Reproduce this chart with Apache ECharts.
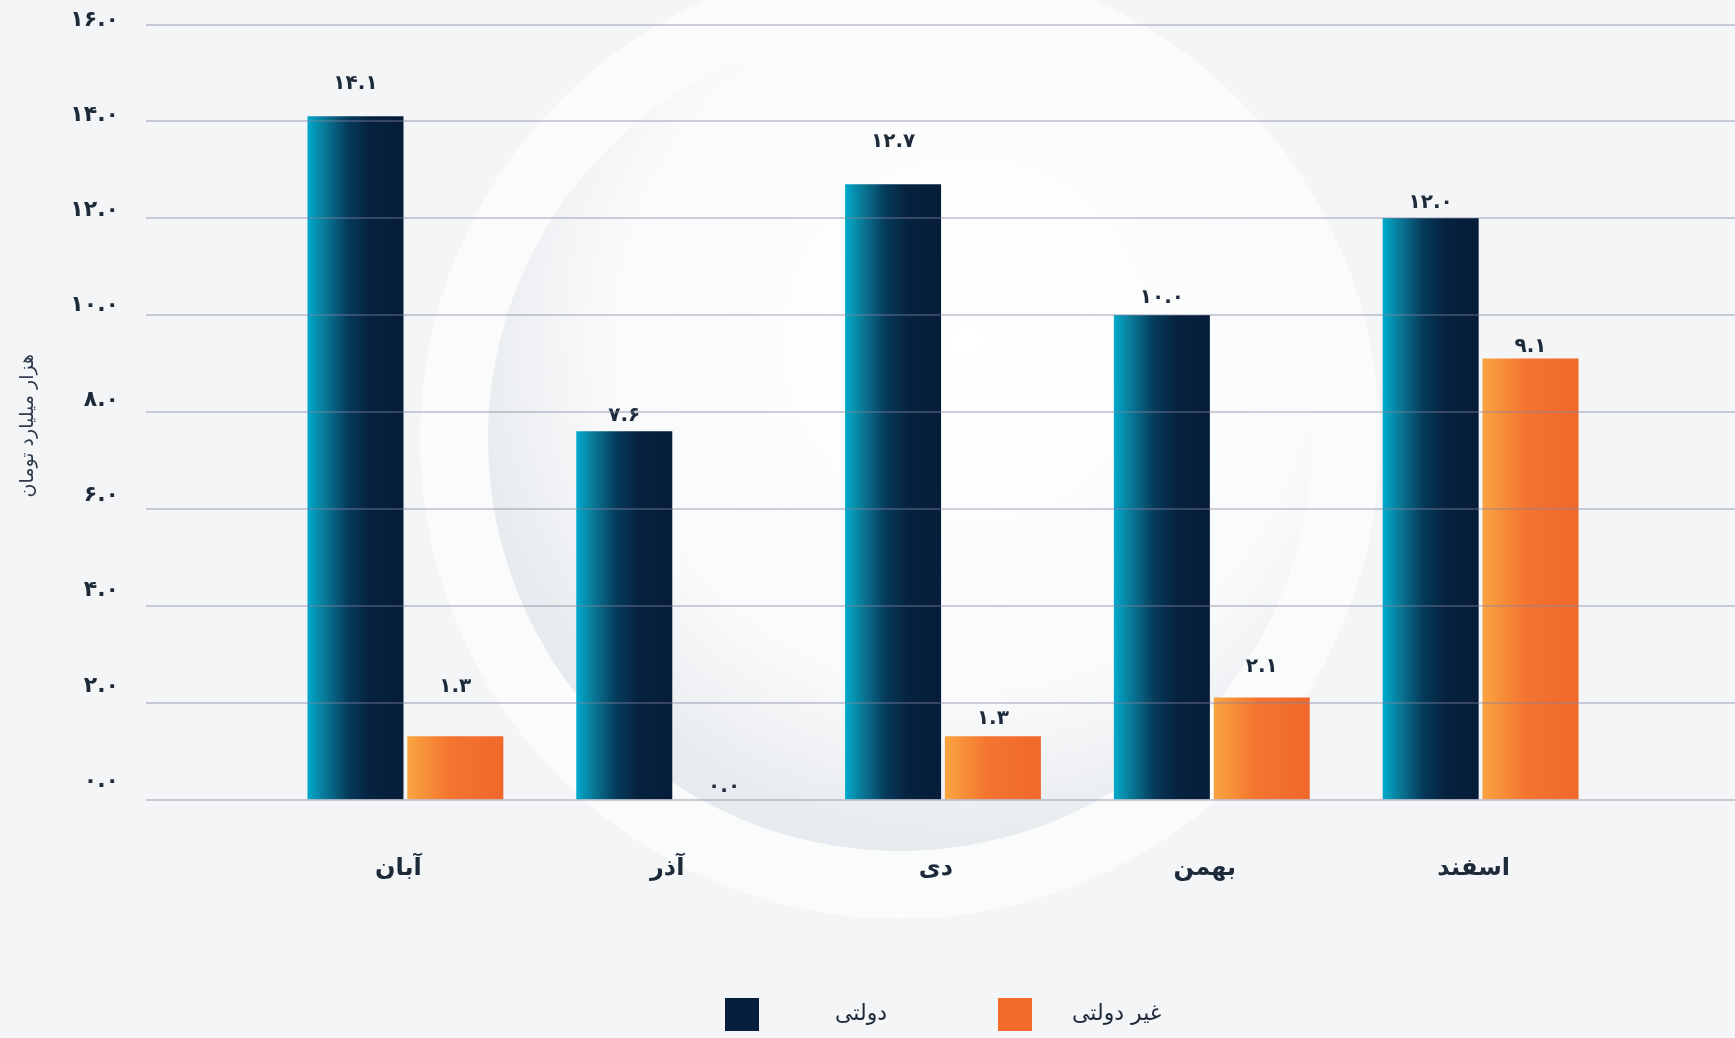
<!DOCTYPE html>
<html>
<head>
<meta charset="utf-8">
<script src="https://cdn.jsdelivr.net/npm/echarts@6/dist/echarts.min.js"></script>
<style>
  html, body { margin: 0; padding: 0; background: #f4f5f7; }
  #presentation { width: 1735px; height: 1038px; }
</style>
</head>
<body>
<div id="presentation"></div>
<script>
var months = ['آبان', 'آذر', 'دی', 'بهمن', 'اسفند'];
var govt = [14.1, 7.6, 12.7, 10.0, 12.0];
var nonGovt = [1.3, 0.0, 1.3, 2.1, 9.1];
var seriesNames = ['دولتی', 'غیر دولتی'];
var yTicks = [0, 2, 4, 6, 8, 10, 12, 14, 16];

// in the picture some value labels float higher than others (series-index -> label distance)
var labelLift = { '0-0': 23, '0-2': 32, '0-3': 7, '1-0': 40, '1-1': 3, '1-2': 8, '1-3': 21, '1-4': 2 };

var font = 'DejaVu Sans';
var ink = '#1c2a3a';

function fa(v) {
  return Number(v).toFixed(1).replace(/\d/g, function (d) { return '۰۱۲۳۴۵۶۷۸۹'[d]; });
}

function barData(values, s) {
  return values.map(function (v, i) {
    var lift = labelLift[s + '-' + i];
    return lift !== undefined ? { value: v, label: { distance: lift } } : v;
  });
}

var navyFill = new echarts.graphic.LinearGradient(0, 0, 1, 0, [
  { offset: 0, color: '#00abcc' },
  { offset: 0.18, color: '#0a7897' },
  { offset: 0.42, color: '#053a5a' },
  { offset: 0.65, color: '#06223f' },
  { offset: 1, color: '#061d38' }
]);
var orangeFill = new echarts.graphic.LinearGradient(0, 0, 1, 0, [
  { offset: 0, color: '#f9a440' },
  { offset: 0.45, color: '#f47430' },
  { offset: 1, color: '#f0692a' }
]);

var valueLabel = {
  show: true,
  position: 'top',
  distance: 5,
  fontFamily: font,
  fontSize: 20,
  fontWeight: 'bold',
  color: ink,
  formatter: function (p) { return fa(p.value); }
};

var yMax = yTicks[yTicks.length - 1];
var yStep = yTicks[1] - yTicks[0];

var option = {
  backgroundColor: '#f4f5f7',
  animation: false,
  graphic: [
    { type: 'circle', z: -10, silent: true, shape: { cx: 900, cy: 439, r: 480 },
      style: { fill: 'rgba(255,255,255,0.55)' } },
    { type: 'circle', z: -9, silent: true, shape: { cx: 900, cy: 439, r: 412 },
      style: { fill: new echarts.graphic.RadialGradient(0.58, 0.38, 0.62, [
        { offset: 0, color: '#ffffff' },
        { offset: 0.7, color: '#f9fafb' },
        { offset: 1, color: '#e7eaee' }
      ]) } }
  ],
  grid: [
    { left: 146, right: 0, top: 24.3, bottom: 238.7 },
    { left: 271, right: 120, top: 24.3, bottom: 238.7 },
    { left: 146, right: 0, top: 20, bottom: 257 }
  ],
  xAxis: [
    { gridIndex: 0, type: 'value', show: false },
    {
      gridIndex: 1,
      type: 'category',
      data: months,
      axisLine: { show: false },
      axisTick: { show: false },
      axisLabel: {
        margin: 57,
        fontFamily: font,
        fontSize: 24,
        fontWeight: 'bold',
        color: ink,
        padding: [0, 14, 0, 0]
      }
    },
    { gridIndex: 2, type: 'value', show: false }
  ],
  yAxis: [
    {
      gridIndex: 0,
      type: 'value',
      min: 0, max: yMax, interval: yStep,
      z: 3,
      name: 'هزار میلیارد تومان',
      nameLocation: 'middle',
      nameRotate: 90,
      nameGap: 108,
      nameTextStyle: { fontFamily: font, fontSize: 19, color: '#2d3b4b', padding: [0, 28, 0, 0] },
      axisLine: { show: false },
      axisTick: { show: false },
      axisLabel: { show: false },
      splitLine: { lineStyle: { color: 'rgba(130,130,162,0.52)', width: 1.5 } }
    },
    { gridIndex: 1, type: 'value', min: 0, max: yMax, interval: yStep, show: false },
    {
      gridIndex: 2,
      type: 'value',
      min: 0, max: yMax, interval: yStep,
      axisLine: { show: false },
      axisTick: { show: false },
      splitLine: { show: false },
      axisLabel: {
        margin: 27,
        fontFamily: font,
        fontSize: 22,
        fontWeight: 'bold',
        color: ink,
        formatter: function (v) { return fa(v); }
      }
    }
  ],
  legend: [
    {
      left: 725, top: 998, padding: 0,
      itemWidth: 34, itemHeight: 33, icon: 'rect', selectedMode: false,
      data: [{ name: seriesNames[0], itemStyle: { color: '#071f3c' },
        textStyle: { padding: [0, 0, 0, 71] } }],
      textStyle: { fontFamily: font, fontSize: 22, color: ink }
    },
    {
      left: 998, top: 998, padding: 0,
      itemWidth: 34, itemHeight: 33, icon: 'rect', selectedMode: false,
      data: [{ name: seriesNames[1], itemStyle: { color: '#f26b2b' },
        textStyle: { padding: [0, 0, 0, 35] } }],
      textStyle: { fontFamily: font, fontSize: 22, color: ink }
    }
  ],
  series: [
    {
      name: seriesNames[0],
      type: 'bar',
      xAxisIndex: 1, yAxisIndex: 1,
      barWidth: 96,
      barGap: '4%',
      itemStyle: { color: navyFill },
      label: valueLabel,
      data: barData(govt, 0)
    },
    {
      name: seriesNames[1],
      type: 'bar',
      xAxisIndex: 1, yAxisIndex: 1,
      barWidth: 96,
      barGap: '4%',
      itemStyle: { color: orangeFill },
      label: valueLabel,
      data: barData(nonGovt, 1)
    }
  ]
};

var mychart = echarts.init(document.getElementById('presentation'));
mychart.setOption(option);
</script>
</body>
</html>
